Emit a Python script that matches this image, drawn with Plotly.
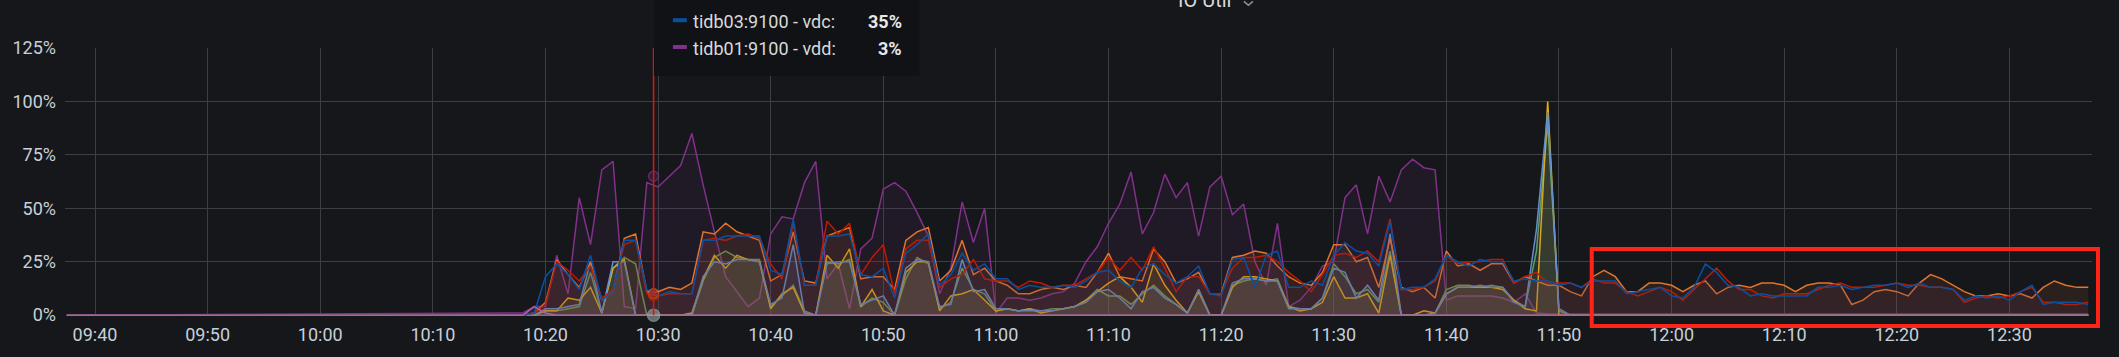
import plotly.graph_objects as go
from datetime import datetime, timedelta

# ---------------- data ----------------
DAY = "2021-03-10"
X_START = "09:37:20"
X_END = "12:37:20"
IDLE_FROM = "09:37:30"      # first sample: every disk idle (0 %) until FIRST_MINUTE
IDLE_VALUE = 0
FIRST_MINUTE = "10:18"      # values below are 1-minute samples from here
SERIES_END = "12:37"        # last sample for series that stay flat at the end

Y_TICKS = [0, 25, 50, 75, 100, 125]
X_TICK_FIRST = "09:40"

# tidb01:9100 - vdd  (purple), 10:18 .. 11:52
TIDB01_VDD = [1, 4, 4, 28, 10, 55, 33, 68, 72, 4, 3, 62, 60, 65, 70, 85, 61, 39, 18, 11,
              4, 8, 38, 46, 45, 62, 72, 17, 24, 3, 31, 36, 59, 62, 58, 48,
              37, 10, 22, 53, 34, 50, 1, 8, 8, 7, 8, 10, 11, 15, 25, 32, 43, 52, 67, 38,
              48, 66, 55, 62, 37, 60, 65, 47, 52, 25, 14, 43, 4, 7,
              13, 23, 25, 55, 61, 38, 65, 53, 68, 73, 69, 68, 7, 9, 9, 9, 9, 8, 6, 10,
              1, 0.5, 0.5, 0.5, 0.5]
TIDB01_VDD_TAIL = 0.5

# tidb01:9100 - vdb  (green), 10:18 .. 11:52
TIDB01_VDB = [0, 0, 2, 2, 3, 4, 20, 1, 22, 27, 24, 0, 0, 0, 0, 0, 16, 27, 30, 27,
              26, 26, 4, 9, 14, 2, 0, 25, 24, 26, 4, 8, 6, 0, 17, 27,
              24, 3, 6, 22, 12, 10, 2, 3, 2, 3, 2, 3, 3, 4, 7, 12, 9, 9, 5, 10,
              14, 9, 5, 1, 12, 0, 0, 14, 16, 17, 16, 17, 4, 3,
              3, 8, 24, 18, 10, 12, 6, 30, 0, 0, 0, 1, 12, 14, 14, 13, 14, 13, 7, 4,
              30, 90, 2, 0, 0]
TIDB01_VDB_TAIL = 0

# tidb02:9100 - vdb  (yellow), 10:18 .. 11:52
TIDB02_VDB = [0, 0, 2, 2, 8, 7, 13, 1, 22, 26, 0, 0, 0, 0, 0, 1, 17, 28, 22, 28,
              26, 25, 3, 10, 13, 1, 0, 28, 22, 31, 4, 12, 2, 0, 20, 25,
              25, 2, 9, 10, 12, 7, 2, 3, 2, 3, 1, 2, 3, 4, 7, 11, 15, 18, 13, 6,
              24, 14, 7, 1, 11, 0, 0, 13, 18, 18, 17, 16, 4, 2,
              3, 6, 18, 8, 8, 10, 1, 28, 0, 0, 2, 1, 10, 13, 13, 13, 13, 12, 7, 3,
              2, 100, 0, 0, 0]
TIDB02_VDB_TAIL = 0

# tidb03:9100 - vdb  (steel blue), 10:18 .. 11:52
TIDB03_VDB = [0, 0, 3, 3, 4, 5, 25, 1, 25, 25, 0, 0, 0, 0, 0, 0, 18, 25, 24, 26,
              26, 25, 5, 8, 33, 1, 0, 24, 25, 25, 5, 7, 9, 0, 22, 26,
              25, 4, 5, 26, 11, 12, 3, 3, 2, 2, 2, 2, 3, 4, 6, 11, 12, 8, 3, 11,
              13, 8, 5, 1, 12, 0, 0, 15, 17, 17, 16, 16, 3, 3,
              3, 8, 22, 20, 8, 14, 7, 38, 0, 0, 0, 1, 10, 13, 13, 14, 13, 13, 6, 4,
              40, 95, 3, 0, 0]
TIDB03_VDB_TAIL = 0

# tidb01:9100 - vdc  (orange), 10:18 .. 12:37
TIDB01_VDC = [0, 1, 6, 26, 19, 13, 25, 7, 11, 36, 38, 11, 11, 13, 12, 15, 39, 38, 43, 39,
              37, 35, 16, 19, 39, 16, 15, 37, 39, 41, 17, 18, 18, 12, 35, 39,
              41, 16, 21, 35, 19, 22, 16, 14, 10, 10, 12, 13, 12, 14, 13, 20, 29, 18, 17, 16,
              31, 25, 15, 17, 20, 10, 10, 27, 28, 30, 29, 23, 18, 15,
              14, 20, 33, 33, 25, 27, 13, 36, 13, 11, 13, 8, 30, 23, 24, 21, 24, 24, 15, 18,
              16, 14, 14, 11, 9, 18, 21, 18, 11, 11, 15, 15, 14,
              11, 14, 16, 10, 13, 14, 13, 15, 15, 14, 11, 14, 15, 15, 14, 5, 7, 11, 12, 11,
              9, 15, 19, 17, 14, 11, 9, 9, 10, 9, 10, 8, 13, 16, 14, 13, 13]

# tidb02:9100 - vdc  (red), 10:18 .. 12:37
TIDB02_VDC = [0, 1, 5, 25, 21, 16, 23, 8, 12, 33, 35, 10, 9, 10, 10, 10, 35, 36, 35, 37,
              38, 36, 24, 17, 43, 14, 14, 44, 38, 43, 19, 27, 33, 10, 31, 35,
              35, 13, 17, 19, 26, 17, 16, 16, 13, 16, 15, 13, 14, 14, 17, 20, 27, 21, 27, 21,
              32, 22, 11, 18, 18, 10, 10, 22, 27, 27, 28, 25, 20, 16,
              11, 19, 28, 29, 27, 30, 25, 45, 12, 12, 13, 16, 28, 24, 25, 25, 26, 26, 15, 18,
              20, 15, 15, 15, 13, 17, 15, 15, 11, 9, 11, 13, 11,
              7, 12, 17, 22, 16, 12, 12, 9, 8, 10, 10, 10, 12, 14, 15, 13, 13, 13, 14, 15,
              14, 14, 13, 13, 12, 6, 8, 9, 8, 9, 11, 13, 6, 6, 5, 5, 6]

# tidb03:9100 - vdc  (blue), 10:18 .. 12:37
TIDB03_VDC = [0, 1, 18, 24, 19, 12, 28, 7, 11, 35, 35, 12, 9, 11, 10, 10, 35, 35, 37, 37,
              37, 37, 21, 19, 45, 14, 14, 37, 37, 38, 19, 18, 22, 8, 29, 33,
              38, 14, 19, 29, 21, 24, 17, 17, 12, 14, 13, 13, 14, 13, 16, 20, 21, 16, 13, 22,
              24, 19, 15, 18, 23, 10, 9, 26, 27, 13, 28, 30, 13, 13,
              16, 14, 28, 34, 30, 29, 23, 44, 12, 13, 13, 17, 28, 25, 23, 26, 25, 25, 16, 17,
              16, 16, 14, 15, 13, 16, 16, 16, 10, 11, 12, 13, 9,
              8, 13, 24, 20, 14, 13, 9, 10, 9, 9, 9, 9, 13, 13, 14, 12, 13, 14, 14, 15,
              13, 15, 13, 13, 12, 7, 9, 8, 9, 7, 11, 14, 5, 6, 6, 6, 5]

# tidb02:9100 - vdd (pink) and tidb03:9100 - vdd (lavender): almost always idle
TIDB02_VDD = [0, 4, 1, 0]
TIDB02_VDD_TAIL = 0
TIDB03_VDD = [0]
TIDB03_VDD_TAIL = 0

SERIES = [
    ("tidb03:9100 - vdd", "#7d70b0", TIDB03_VDD, TIDB03_VDD_TAIL),
    ("tidb01:9100 - vdd", "#82318a", TIDB01_VDD, TIDB01_VDD_TAIL),
    ("tidb01:9100 - vdb", "#629E51", TIDB01_VDB, TIDB01_VDB_TAIL),
    ("tidb02:9100 - vdb", "#E5AC0E", TIDB02_VDB, TIDB02_VDB_TAIL),
    ("tidb03:9100 - vdb", "#5F8FCC", TIDB03_VDB, TIDB03_VDB_TAIL),
    ("tidb01:9100 - vdc", "#E0752D", TIDB01_VDC, None),
    ("tidb02:9100 - vdc", "#BF1B00", TIDB02_VDC, None),
    ("tidb03:9100 - vdc", "#0A50A1", TIDB03_VDC, None),
    ("tidb02:9100 - vdd", "#b0609e", TIDB02_VDD, TIDB02_VDD_TAIL),
]

# hover state in the screenshot
HOVER_TIME = "10:29:36"
HOVER_VALUES = [65, 10, 9, 0]
HOVER_COLORS = ["#82318a", "#E0752D", "#BF1B00", "#9aaba4"]

TITLE = "IO Util"
TOOLTIP_ROWS = [("tidb03:9100 - vdc:", "35%", "#0A50A1"),
                ("tidb01:9100 - vdd:", "3%", "#82318a")]
TOOLTIP_PARTIAL_VALUE = "36%"

# ---------------- helpers ----------------
def ts(hms):
    fmt = "%Y-%m-%d %H:%M:%S" if hms.count(":") == 2 else "%Y-%m-%d %H:%M"
    return datetime.strptime(f"{DAY} {hms}", fmt)

def rgba(hex_color, a):
    h = hex_color.lstrip("#")
    return f"rgba({int(h[0:2],16)},{int(h[2:4],16)},{int(h[4:6],16)},{a})"

BG = "#16171b"
GRID = "#3d3f44"
TXT = "#c7d0d9"
FONT = "Roboto"

W_FIG, H_FIG = 2119, 357
ML, MR, MT = 58, 27, 48
Y_MIN, Y_MAX = -0.4, 125.02
PLOT_H_PER_UNIT = (317 - 48) / 125.0
PLOT_BOTTOM = 317 + (0 - Y_MIN) * PLOT_H_PER_UNIT
MB = H_FIG - PLOT_BOTTOM
PLOT_W = W_FIG - ML - MR
PLOT_H = PLOT_BOTTOM - MT

def px(x):
    return (x - ML) / PLOT_W

def py(y):
    return (PLOT_BOTTOM - y) / PLOT_H

# ---------------- figure ----------------
fig = go.Figure()
t0 = ts(FIRST_MINUTE)
for name, color, values, tail in SERIES:
    xs = [ts(IDLE_FROM)] + [t0 + timedelta(minutes=i) for i in range(len(values))]
    ys = [IDLE_VALUE] + list(values)
    if tail is not None:
        xs.append(ts(SERIES_END))
        ys.append(tail)
    fig.add_trace(go.Scatter(
        x=xs, y=ys, name=name, mode="lines",
        line=dict(color=color, width=1.5),
        fill="tozeroy", fillcolor=rgba(color, 0.10),
        hoverinfo="skip", showlegend=False))

# hover markers
fig.add_trace(go.Scatter(
    x=[ts(HOVER_TIME)] * len(HOVER_VALUES), y=HOVER_VALUES, mode="markers",
    marker=dict(size=[10, 10, 10, 12],
                color=[rgba(c, 0.35) for c in HOVER_COLORS[:3]] + [rgba(HOVER_COLORS[3], 0.85)],
                line=dict(color=HOVER_COLORS, width=1.5)),
    hoverinfo="skip", showlegend=False, cliponaxis=False))

shapes = []
# crosshair
shapes.append(dict(type="line", xref="x", yref="y", x0=ts(HOVER_TIME), x1=ts(HOVER_TIME),
                   y0=0, y1=125, line=dict(color="#d01818", width=1.6), layer="above"))
# tooltip box
shapes.append(dict(type="rect", xref="paper", yref="paper",
                   x0=px(649), x1=px(915), y0=py(76), y1=py(-6),
                   fillcolor="#111216", line=dict(width=0), layer="above"))
annotations = []
row_y = [21, 48]
for (label, value, color), yc in zip(TOOLTIP_ROWS, row_y):
    shapes.append(dict(type="line", xref="paper", yref="paper",
                       x0=px(668), x1=px(682), y0=py(yc - 1), y1=py(yc - 1),
                       line=dict(color=color, width=4), layer="above"))
    annotations.append(dict(xref="paper", yref="paper", x=px(686), y=py(yc),
                            xanchor="left", yanchor="middle", showarrow=False,
                            text=label, font=dict(family=FONT, size=18, color="#d8d9da")))
    annotations.append(dict(xref="paper", yref="paper", x=px(900), y=py(yc),
                            xanchor="right", yanchor="middle", showarrow=False,
                            text=f"<b>{value}</b>", font=dict(family=FONT, size=18, color="#e6e7e8")))
annotations.append(dict(xref="paper", yref="paper", x=px(900), y=py(-7),
                        xanchor="right", yanchor="middle", showarrow=False,
                        text=f"<b>{TOOLTIP_PARTIAL_VALUE}</b>",
                        font=dict(family=FONT, size=18, color="#e6e7e8")))
# title (cut off at the top)
annotations.append(dict(xref="paper", yref="paper", x=px(1201), y=py(0),
                        xanchor="center", yanchor="middle", showarrow=False,
                        text=TITLE, font=dict(family=FONT, size=20, color="#d8d9da")))
shapes.append(dict(type="path", xref="paper", yref="paper",
                   path=f"M {px(1241)} {py(1)} L {px(1245.5)} {py(5)} L {px(1250)} {py(1)}",
                   line=dict(color="#8e9094", width=1.5), layer="above"))
# red highlight rectangle
shapes.append(dict(type="rect", xref="paper", yref="paper",
                   x0=px(1590), x1=px(2098), y0=py(328), y1=py(250.5),
                   line=dict(color="#ff2419", width=4), fillcolor="rgba(0,0,0,0)", layer="above"))

fig.update_layout(
    width=W_FIG, height=H_FIG, autosize=False,
    margin=dict(l=ML, r=MR, t=MT, b=MB, pad=0),
    paper_bgcolor=BG, plot_bgcolor=BG,
    font=dict(family=FONT, color=TXT, size=18),
    showlegend=False, hovermode=False,
    shapes=shapes, annotations=annotations,
    xaxis=dict(type="date", range=[ts(X_START), ts(X_END)],
               tick0=ts(X_TICK_FIRST), dtick=600000, tickformat="%H:%M",
               showgrid=True, gridcolor=GRID, gridwidth=1, zeroline=False, showline=False,
               ticks="", tickfont=dict(family=FONT, size=18, color=TXT),
               ticklabelstandoff=6, fixedrange=True),
    yaxis=dict(range=[Y_MIN, Y_MAX], tickmode="array", tickvals=Y_TICKS,
               ticktext=[f"{v}%" for v in Y_TICKS],
               showgrid=True, gridcolor=GRID, gridwidth=1, zeroline=False, showline=False,
               ticks="", tickfont=dict(family=FONT, size=18, color=TXT),
               ticklabelstandoff=8, fixedrange=True),
)

fig.write_html("out.html", config={"displayModeBar": False, "staticPlot": True},
               post_script="document.body.style.margin='0px';document.body.style.overflow='hidden';")
